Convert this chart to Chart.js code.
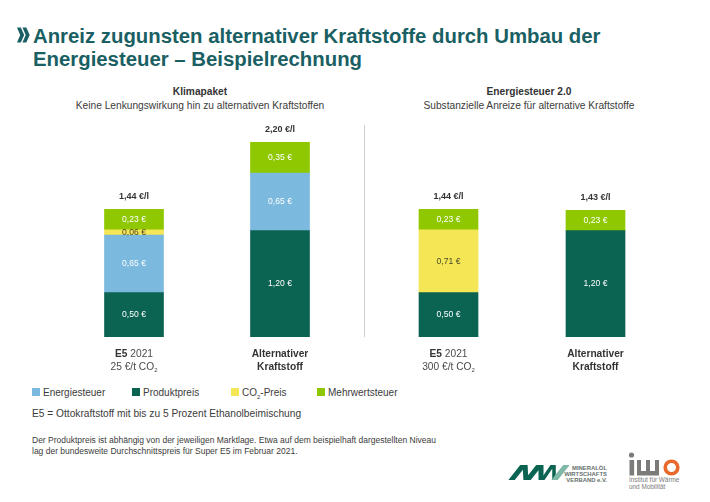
<!DOCTYPE html>
<html lang="de">
<head>
<meta charset="utf-8">
<script src="https://cdn.jsdelivr.net/npm/chart.js@4"></script>
<style>
  html, body { margin: 0; padding: 0; background: #fff; }
  body { width: 710px; height: 502px; position: relative; overflow: hidden; font-family: "Liberation Sans", sans-serif; color: #3c3c3b; }
  .abs { position: absolute; white-space: nowrap; }
  canvas { position: absolute; }
  h1 { position: absolute; left: 33px; top: 25px; margin: 0; font-size: 20.35px; line-height: 22.5px; font-weight: 700; color: #1a5f63; white-space: nowrap; }
  .panel { text-align: center; font-size: 10.2px; line-height: 13.5px; transform: translateX(-50%); top: 85px; }
  .panel b { display: block; color: #333; }
  .divider { left: 364px; top: 125px; width: 1px; height: 212px; background: #cfcfcf; }
  sub { font-size: 60%; line-height: 0; }
  .legend-item { top: 386px; font-size: 10px; line-height: 14px; }
  .legend-item i { position: absolute; left: 0; top: 2px; width: 8px; height: 8px; }
  .legend-item span { margin-left: 11px; }
</style>
</head>
<body>
<h1>Anreiz zugunsten alternativer Kraftstoffe durch Umbau der<br>Energiesteuer – Beispielrechnung</h1>
<svg class="abs" style="left:15px;top:26px" width="16" height="18" viewBox="0 0 16 18">
  <path d="M2 1.5 L5.8 1.5 L9.2 9 L5.8 16.5 L2 16.5 L5.2 9 Z M7.5 1.5 L11.3 1.5 L14.7 9 L11.3 16.5 L7.5 16.5 L10.7 9 Z" fill="#1a5f63"/>
</svg>

<div class="abs panel" style="left:200px"><b>Klimapaket</b>Keine Lenkungswirkung hin zu alternativen Kraftstoffen</div>
<div class="abs panel" style="left:529px"><b>Energiesteuer 2.0</b>Substanzielle Anreize für alternative Kraftstoffe</div>
<div class="abs divider"></div>

<canvas id="klima" width="292" height="260" style="left:61px;top:120px"></canvas>
<canvas id="umbau" width="294" height="260" style="left:375px;top:120px"></canvas>

<div id="legend"></div>
<div class="abs" style="left:32px;top:407px;font-size:10.2px;line-height:14px">E5 = Ottokraftstoff mit bis zu 5 Prozent Ethanolbeimischung</div>
<div class="abs" style="left:32px;top:435px;font-size:8.5px;line-height:10.5px">Der Produktpreis ist abhängig von der jeweiligen Marktlage. Etwa auf dem beispielhaft dargestellten Niveau<br>lag der bundesweite Durchschnittspreis für Super E5 im Februar 2021.</div>

<!-- logos -->
<svg class="abs" style="left:500px;top:445px" width="210" height="50" viewBox="500 445 210 50" font-family="Liberation Sans, sans-serif">
  <defs><clipPath id="mwvClip"><rect x="505" y="465" width="70" height="15"/></clipPath></defs>
  <g clip-path="url(#mwvClip)" fill="none" stroke-linejoin="miter" stroke-miterlimit="8">
    <polyline points="510,482 525,463 526,482 541,463 541,482" stroke="#0b6352" stroke-width="5"/>
    <polyline points="541,482 554,463 554,482" stroke="#0b6352" stroke-width="3.5"/>
    <polyline points="553,482 568,463" stroke="#7fb8a8" stroke-width="5"/>
  </g>
  <g font-size="5.9" font-weight="700" fill="#66706c" text-anchor="end">
    <text x="607" y="469.5">MINERALÖL</text>
    <text x="607" y="475.5">WIRTSCHAFTS</text>
    <text x="607" y="481.5">VERBAND e.V.</text>
  </g>
  <g fill="#7b7b7a">
    <circle cx="631.5" cy="455" r="2.6"/>
    <rect x="629.5" y="460" width="4.6" height="15.5"/>
    <path d="M637 460 h4 v11 h5 v-11 h4 v11 h5 v-11 h4 v15.5 h-22 z"/>
  </g>
  <circle cx="671.5" cy="467.5" r="6.3" fill="none" stroke="#e8692b" stroke-width="3.6"/>
  <g font-size="6.4" fill="#7b7b7a">
    <text x="629" y="481.5">Institut für Wärme</text>
    <text x="629" y="488.5">und Mobilität</text>
  </g>
</svg>

<script>
const seriesNames = ["Produktpreis", "Energiesteuer", "CO2-Preis", "Mehrwertsteuer"];
const seriesColors = ["#0b6352", "#7bb9de", "#f5e655", "#8fc800"];
const labelColors = ["#ffffff", "#ffffff", "#4a4a2a", "#ffffff"];

// values in EUR per litre, one list per stacked segment
const klimaProdukt = [0.50, 1.20];
const klimaEnergie = [0.65, 0.65];
const klimaCo2 = [0.06, null];
const klimaMwst = [0.23, 0.35];
const klimaTotals = ["1,44 €/l", "2,20 €/l"];

const umbauProdukt = [0.50, 1.20];
const umbauEnergie = [null, null];
const umbauCo2 = [0.71, null];
const umbauMwst = [0.23, 0.23];
const umbauTotals = ["1,44 €/l", "1,43 €/l"];

const klimaCategories = ["E5 2021 25 €/t CO2", "Alternativer Kraftstoff"];
const umbauCategories = ["E5 2021 300 €/t CO2", "Alternativer Kraftstoff"];
const klimaAxisText = [
  [[{ t: "E5", bold: true }, { t: " 2021" }], [{ t: "25 €/t CO" }, { t: "2", sub: true }]],
  [[{ t: "Alternativer", bold: true }], [{ t: "Kraftstoff", bold: true }]]
];
const umbauAxisText = [
  [[{ t: "E5", bold: true }, { t: " 2021" }], [{ t: "300 €/t CO" }, { t: "2", sub: true }]],
  [[{ t: "Alternativer", bold: true }], [{ t: "Kraftstoff", bold: true }]]
];

function fmtEuro(v) {
  return v.toFixed(2).replace(".", ",") + " €";
}

function drawRuns(ctx, runs, cx, y) {
  const fontFor = r => (r.bold ? "700 " : "400 ") + (r.sub ? "6px" : "10.2px") + ' "Liberation Sans"';
  let w = 0;
  runs.forEach(r => { ctx.font = fontFor(r); w += ctx.measureText(r.t).width; });
  let x = cx - w / 2;
  ctx.textAlign = "left";
  ctx.textBaseline = "alphabetic";
  runs.forEach(r => {
    ctx.font = fontFor(r);
    ctx.fillStyle = r.bold ? "#333333" : "#4a4a4a";
    ctx.fillText(r.t, x, r.sub ? y + 2.5 : y);
    x += ctx.measureText(r.t).width;
  });
}

// segment values, totals over the bars, category text under the axis
const barText = {
  id: "barText",
  afterDatasetsDraw(chart, args, opts) {
    const ctx = chart.ctx;
    const xs = chart.scales.x;
    ctx.save();
    chart.data.datasets.forEach((ds, i) => {
      chart.getDatasetMeta(i).data.forEach((bar, j) => {
        if (ds.data[j] == null) return;
        const c = bar.getCenterPoint();
        ctx.font = '8.6px "Liberation Sans"';
        ctx.fillStyle = labelColors[i];
        ctx.textAlign = "center";
        ctx.textBaseline = "middle";
        ctx.fillText(fmtEuro(ds.data[j]), c.x, c.y);
      });
    });
    opts.totals.forEach((txt, j) => {
      let top = Infinity;
      chart.data.datasets.forEach((ds, i) => {
        if (ds.data[j] != null) top = Math.min(top, chart.getDatasetMeta(i).data[j].y);
      });
      ctx.font = '700 9px "Liberation Sans"';
      ctx.fillStyle = "#333333";
      ctx.textAlign = "center";
      ctx.textBaseline = "middle";
      ctx.fillText(txt, xs.getPixelForValue(j), top - 12.5);
    });
    opts.axisText.forEach((lines, j) => {
      lines.forEach((runs, k) => {
        drawRuns(ctx, runs, xs.getPixelForValue(j), chart.scales.y.bottom + 20 + k * 12.5);
      });
    });
    ctx.restore();
  }
};

function makeChart(id, categories, values, totals, axisText) {
  new Chart(document.getElementById(id), {
    type: "bar",
    data: {
      labels: categories,
      datasets: values.map((v, i) => ({
        label: seriesNames[i],
        data: v,
        backgroundColor: seriesColors[i],
        barThickness: 59,
        borderWidth: 0
      }))
    },
    options: {
      responsive: false,
      animation: false,
      layout: { padding: { top: 22, bottom: 43, left: 0, right: 0 } },
      scales: {
        x: { stacked: true, display: false },
        y: { stacked: true, display: false, min: 0, max: 2.2 }
      },
      plugins: {
        legend: { display: false },
        tooltip: { enabled: false },
        barText: { totals: totals, axisText: axisText }
      }
    },
    plugins: [barText]
  });
}

makeChart("klima", klimaCategories, [klimaProdukt, klimaEnergie, klimaCo2, klimaMwst], klimaTotals, klimaAxisText);
makeChart("umbau", umbauCategories, [umbauProdukt, umbauEnergie, umbauCo2, umbauMwst], umbauTotals, umbauAxisText);

// legend runs in its own order, below both panels
const legendOrder = [1, 0, 2, 3];
const legendLeft = [32, 132, 231, 317];
const legendBox = document.getElementById("legend");
legendOrder.forEach((s, k) => {
  const item = document.createElement("div");
  item.className = "abs legend-item";
  item.style.left = legendLeft[k] + "px";
  const name = seriesNames[s].replace("CO2", "CO<sub>2</sub>");
  item.innerHTML = '<i style="background:' + seriesColors[s] + '"></i><span>' + name + "</span>";
  legendBox.appendChild(item);
});
</script>
</body>
</html>
